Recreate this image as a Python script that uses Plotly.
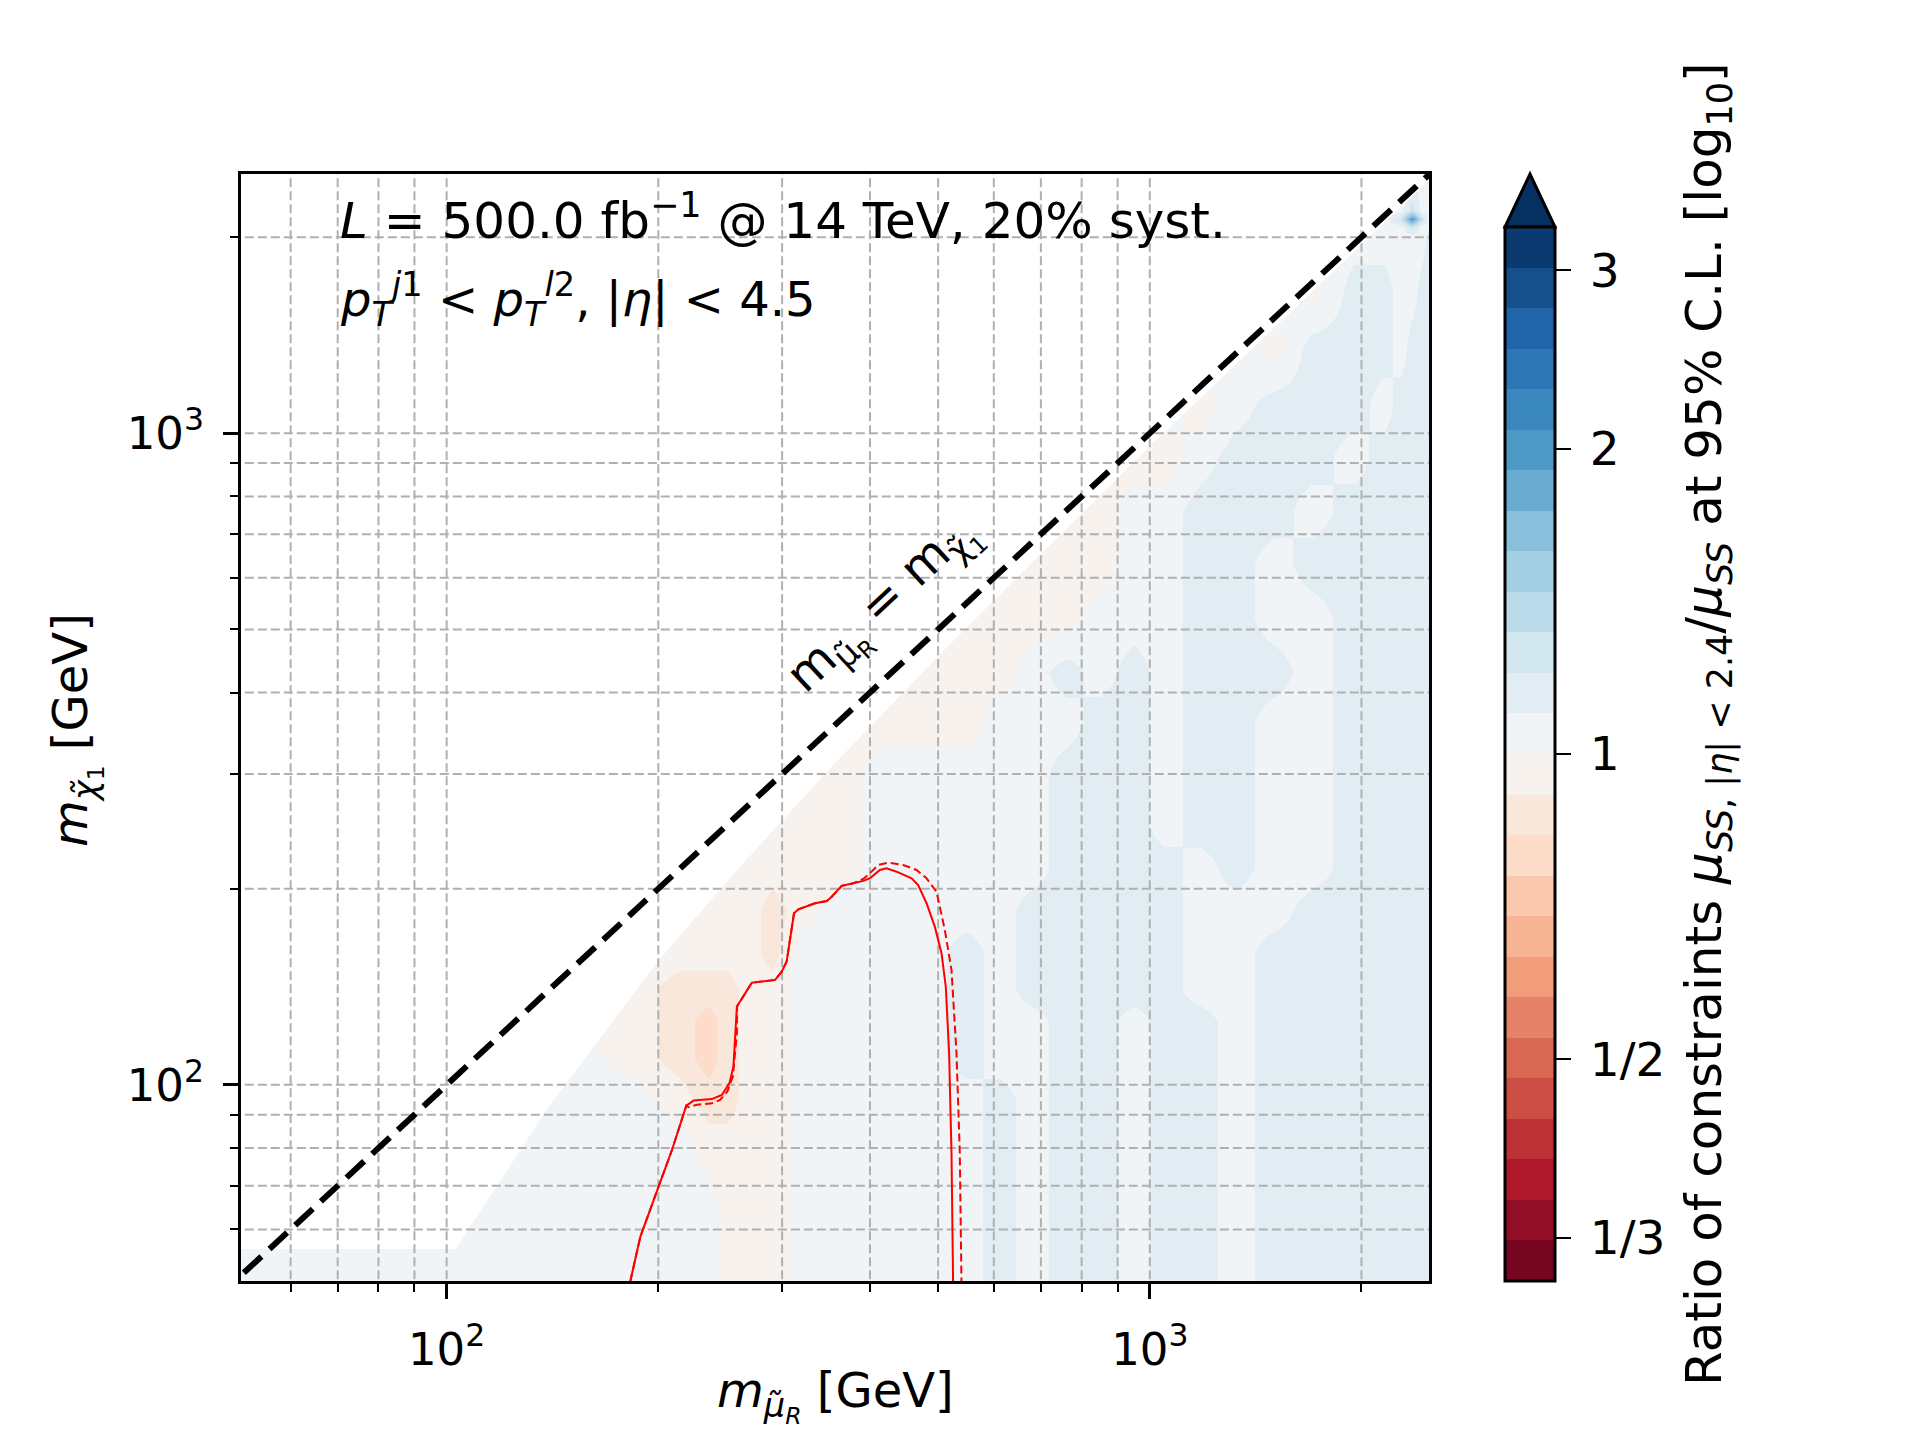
import math
import plotly.graph_objects as go

FONT = "DejaVu Sans"

# ---------------- data ----------------
# grid nodes of the ratio map (GeV)
mu_nodes = [51, 100, 150, 185, 215, 235, 250, 270, 290, 320, 360, 420, 480, 550, 610,
            680, 760, 850, 950, 1050, 1180, 1320, 1500, 1700, 1950, 2150, 2280, 2360, 2440, 2495]
chi_nodes = [50, 65, 80, 95, 110, 125, 140, 160, 185, 215, 250, 300, 360, 430, 520,
             630, 760, 920, 1100, 1350, 1650, 2000, 2070, 2130, 2200, 2500]

# log10(ratio) value of each colour class seen in the map
band_value = {"T": -0.10, "S": -0.06, "P": -0.02, "A": 0.02, "B": 0.06, "C": 0.10, "D": 0.30}

# one string per chi node (bottom -> top), one letter per mu node (left -> right)
band_rows = [
    "AAAAAA" "PPP" "AAAAA" "B" "A" "BB" "A" "BB" "A" "BBBBBBBB",          # 50
    "AAAAAA" "PPP" "AAAAA" "B" "A" "BB" "A" "BB" "A" "BBBBBBBB",          # 65
    "AAAAA" "PPPP" "AAAAA" "B" "A" "BB" "A" "BB" "A" "BBBBBBBB",          # 80
    "AAAA" "P" "SS" "PP" "AAAAA" "B" "A" "BB" "A" "BB" "A" "BBBBBBBB",    # 95
    "AAA" "P" "S" "T" "S" "PP" "AAAA" "B" "AA" "BB" "A" "BB" "A" "BBBBBBBB",  # 110
    "PPPP" "S" "T" "S" "PP" "AAAA" "B" "AA" "BB" "A" "BB" "A" "BBBBBBBB",  # 125
    "PPPP" "SSS" "PP" "AAAA" "B" "A" "BBBBB" "AA" "BBBBBBBB",             # 140
    "PPPPPPPP" "S" "AAAA" "B" "A" "BBBBB" "AA" "BBBBBBBB",                # 160
    "PPPPPPPP" "S" "P" "AAAAA" "BBBBB" "AAA" "BBBBBBB",                   # 185
    "PPPPPPPPPPP" "AAAAA" "BBBB" "A" "B" "AA" "BBBBBB",                   # 215
    "PPPPPPPPPPP" "AAAAA" "BBB" "A" "BB" "AA" "BBBBBB",                   # 250
    "PPPPPPPPPPP" "AAAAA" "BBB" "A" "BB" "AA" "BBBBBB",                   # 300
    "PPPPPPPPPPPPPP" "AAA" "BB" "A" "BB" "AA" "BBBBBB",                   # 360
    "PPPPPPPPPPPPPPP" "A" "B" "A" "B" "A" "BBB" "A" "BBBBBB",             # 430
    "PPPPPPPPPPPPPPPPP" "AAA" "BB" "AA" "BBBBBB",                         # 520
    "PPPPPPPPPPPPPPPPPP" "AA" "BB" "A" "BBBBBBB",                         # 630
    "PPPPPPPPPPPPPPPPPP" "AA" "BBB" "A" "BBBBBB",                         # 760
    "PPPPPPPPPPPPPPPPPPPP" "A" "BBB" "A" "BBBBB",                         # 920
    "AAAAAAAAAAAAAAAAAAAA" "P" "A" "BBB" "A" "BBBB",                      # 1100
    "AAAAAAAAAAAAAAAAAAAAAA" "P" "BBB" "A" "BBB",                         # 1350
    "AAAAAAAAAAAAAAAAAAAAAAA" "P" "BB" "AA" "BB",                         # 1650
    "AAAAAAAAAAAAAAAAAAAAAAAAAAAAA" "B",                                  # 2000
    "AAAAAAAAAAAAAAAAAAAAAAAAAAA" "C" "AA",                               # 2070
    "AAAAAAAAAAAAAAAAAAAAAAAAAA" "CDC" "A",                               # 2130
    "AAAAAAAAAAAAAAAAAAAAAAAAAAA" "C" "AA",                               # 2200
    "AAAAAAAAAAAAAAAAAAAAAAAAAAAAAA",                                     # 2500
]

# lower edge of the region without data (just below the diagonal)
edge_mu = [40, 103, 140, 200, 260, 356, 522, 1000, 3000]
edge_chi = [56, 56, 93, 155, 215, 311, 477, 955, 2955]

# exclusion contours (red)
solid_mu = [182.5, 188.6, 209.2, 219.2, 224.5, 238.4, 246.3, 252.5, 255.8, 258.7, 271.7, 293.2,
            299.6, 304.5, 311.9, 316.4, 334.2, 347.2, 352.9, 364.6, 378.7, 391.3, 399.9, 413.2,
            422.4, 436.4, 458.4, 468.4, 481.4, 494.6, 505.6, 512.7, 518.3, 522.4, 525.1]
solid_chi = [50.0, 58.5, 79.5, 92.9, 94.6, 95.1, 96.5, 100.6, 106.7, 131.9, 143.5, 144.9,
             149.2, 154.6, 183.4, 186.0, 190.0, 191.5, 194.4, 202.0, 203.9, 205.6, 207.5, 213.7,
             215.0, 212.4, 207.5, 202.6, 190.0, 174.9, 159.2, 141.5, 111.9, 78.6, 50.0]
dashed_mu = [182.5, 188.6, 209.2, 219.2, 220.8, 227.0, 238.4, 244.9, 250.8, 255.3, 258.7, 258.8,
             271.7, 293.2, 299.6, 304.5, 311.9, 316.4, 334.2, 347.2, 352.9, 364.6, 378.7, 391.3,
             399.9, 411.0, 424.6, 446.0, 465.9, 481.4, 497.3, 511.1, 522.4, 531.0, 536.8, 539.7]
dashed_chi = [50.0, 58.5, 79.5, 92.9, 92.4, 93.2, 93.7, 94.8, 97.7, 103.0, 120.0, 131.9,
              143.5, 144.9, 149.2, 154.6, 183.4, 186.0, 190.0, 191.5, 194.4, 202.0, 203.9, 207.0,
              211.2, 217.5, 219.3, 217.5, 213.7, 207.5, 197.9, 172.9, 150.1, 112.0, 78.6, 50.0]

# axis ticks
major_ticks = [100, 1000]
major_text = ["10<sup>2</sup>", "10<sup>3</sup>"]
minor_ticks = [60, 70, 80, 90, 200, 300, 400, 500, 600, 700, 800, 900, 2000]
grid_ticks = [60, 70, 80, 90, 100, 200, 300, 400, 500, 600, 700, 800, 900, 1000, 2000]
x_range = [51, 2495]
y_range = [50, 2500]

# colour bar
cb_levels_min, cb_levels_max, cb_n_bands = -0.52, 0.52, 26
cb_tick_ratio = [1 / 3, 1 / 2, 1, 2, 3]
cb_tick_text = ["1/3", "1/2", "1", "2", "3"]

# ---------------- build ----------------
for r in band_rows:
    if len(r) != len(mu_nodes):
        raise ValueError("row length %d" % len(r))
z = [[band_value[c] for c in row] for row in band_rows]

rdbu_anchor = [(103, 0, 31), (178, 24, 43), (214, 96, 77), (244, 165, 130), (253, 219, 199),
               (247, 247, 247), (209, 229, 240), (146, 197, 222), (67, 147, 195),
               (33, 102, 172), (5, 48, 97)]


def rdbu(t):
    t = min(max(t, 0.0), 1.0) * 10
    i = min(int(t), 9)
    f = t - i
    c0, c1 = rdbu_anchor[i], rdbu_anchor[i + 1]
    return "rgb(%d,%d,%d)" % tuple(round(a + (b - a) * f) for a, b in zip(c0, c1))


colorscale = []
for k in range(cb_n_bands):
    col = rdbu((k + 0.5) / cb_n_bands)
    colorscale.append([k / cb_n_bands, col])
    colorscale.append([(k + 1) / cb_n_bands, col])

# geometry (pixels)
W, H = 1920, 1440
ML, MR, MT, MB = 241, 491, 174, 159
PW, PH = W - ML - MR, H - MT - MB
CB_LEFT, CB_THICK, CB_LEN = 1505, 50, 1054

fig = go.Figure()

fig.add_trace(go.Heatmap(
    x=mu_nodes, y=chi_nodes, z=z, zmin=cb_levels_min, zmax=cb_levels_max,
    colorscale=colorscale, zsmooth="best", hoverinfo="skip",
    colorbar=dict(
        thicknessmode="pixels", thickness=CB_THICK,
        lenmode="pixels", len=CB_LEN,
        x=(CB_LEFT - ML) / PW, xanchor="left", xpad=0,
        y=0, yanchor="bottom", ypad=0,
        outlinecolor="black", outlinewidth=3,
        tickmode="array", tickvals=[math.log10(v) for v in cb_tick_ratio],
        ticktext=["\u2009" + t for t in cb_tick_text],
        ticks="outside", ticklen=15, tickwidth=2, tickcolor="black",
        tickfont=dict(family=FONT, size=47, color="black"),
    ),
))

# white area without data
fig.add_trace(go.Scatter(
    x=edge_mu + [3000, 40], y=edge_chi + [3000, 3000], mode="lines", fill="toself",
    fillcolor="white", line=dict(width=0, color="white"), hoverinfo="skip", showlegend=False))

# dashed grid (drawn above the map, as in the reference)
gx, gy = [], []
for v in grid_ticks:
    gx += [v, v, None]
    gy += [40, 3000, None]
fig.add_trace(go.Scatter(x=gx, y=gy, mode="lines", hoverinfo="skip", showlegend=False,
                         line=dict(color="#b0b0b0", width=2, dash="9px,4px")))
fig.add_trace(go.Scatter(x=gy, y=gx, mode="lines", hoverinfo="skip", showlegend=False,
                         line=dict(color="#b0b0b0", width=2, dash="9px,4px")))

# diagonal m_mu = m_chi
fig.add_trace(go.Scatter(x=[40, 3000], y=[40, 3000], mode="lines", hoverinfo="skip",
                         showlegend=False, line=dict(color="black", width=6, dash="24px,11px")))

fig.add_trace(go.Scatter(x=solid_mu, y=solid_chi, mode="lines", hoverinfo="skip",
                         showlegend=False, line=dict(color="red", width=2)))
fig.add_trace(go.Scatter(x=dashed_mu, y=dashed_chi, mode="lines", hoverinfo="skip",
                         showlegend=False, line=dict(color="red", width=2, dash="8px,4px")))

axis_common = dict(
    type="log", showgrid=False, zeroline=False, showline=True, linecolor="black", linewidth=3,
    mirror=True, ticks="outside", ticklen=15, tickwidth=3, tickcolor="black",
    tickmode="array", tickvals=major_ticks, ticktext=major_text,
    tickfont=dict(family=FONT, size=45, color="black"),
    minor=dict(tickmode="array", tickvals=minor_ticks, ticks="outside", ticklen=8, tickwidth=2,
               tickcolor="black", showgrid=False),
)

fig.update_layout(
    width=W, height=H, margin=dict(l=ML, r=MR, t=MT, b=MB, pad=0),
    paper_bgcolor="white", plot_bgcolor="white", showlegend=False,
    font=dict(family=FONT, color="black"),
    xaxis=dict(range=[math.log10(x_range[0]), math.log10(x_range[1])], ticklabelstandoff=12,
               **axis_common),
    yaxis=dict(range=[math.log10(y_range[0]), math.log10(y_range[1])], ticklabelstandoff=10,
               **axis_common),
)

# colour-bar extension arrow
xl = (CB_LEFT - ML) / PW
xr = (CB_LEFT + CB_THICK - ML) / PW
yt = CB_LEN / PH
fig.add_shape(type="path", xref="paper", yref="paper",
              path="M %.5f,%.5f L %.5f,%.5f L %.5f,%.5f Z" % (xl, yt, (xl + xr) / 2, 1.0, xr, yt),
              fillcolor=rdbu(1.0), line=dict(color="black", width=3), layer="above")

ann = []
ann.append(dict(text="<i>L</i> = 500.0 fb<sup>\u22121</sup> @ 14 TeV, 20% syst.",
                x=(338 - ML) / PW, y=(MT + PH - 218) / PH, xanchor="left", yanchor="middle",
                font=dict(size=50)))
ann.append(dict(text="<i>p</i><sub><i>T</i></sub><sup><i>j</i>1</sup> &lt; "
                     "<i>p</i><sub><i>T</i></sub><sup><i>l</i>2</sup>, |<i>\u03b7</i>| &lt; 4.5",
                x=(338 - ML) / PW, y=(MT + PH - 300) / PH, xanchor="left", yanchor="middle",
                font=dict(size=48)))
ann.append(dict(text="m<sub>\u03bc\u0303<sub>R</sub></sub> = m<sub>\u03c7\u0303<sub>1</sub></sub>",
                x=(884 - ML) / PW, y=(MT + PH - 606) / PH, xanchor="center", yanchor="middle",
                textangle=-43, font=dict(size=48)))
ann.append(dict(text="<i>m</i><sub><i>\u03bc\u0303</i><sub><i>R</i></sub></sub> [GeV]",
                x=0.5, y=(MT + PH - 1396) / PH, xanchor="center", yanchor="middle",
                font=dict(size=48)))
ann.append(dict(text="<i>m</i><sub><i>\u03c7\u0303</i><sub>1</sub></sub> [GeV]",
                x=(76 - ML) / PW, y=(MT + PH - 730) / PH, xanchor="center", yanchor="middle",
                textangle=-90, font=dict(size=48)))
ann.append(dict(text="Ratio of constraints <i>\u03bc</i><sub><i>SS</i>, |<i>\u03b7</i>| &lt; 2.4</sub>"
                     "/<i>\u03bc</i><sub><i>SS</i></sub> at 95% C.L. [log<sub>10</sub>]",
                x=(1708 - ML) / PW, y=(MT + PH - 724) / PH, xanchor="center", yanchor="middle",
                textangle=-90, font=dict(size=50)))
for a in ann:
    a.update(xref="paper", yref="paper", showarrow=False)
    a["font"].update(family=FONT, color="black")
fig.update_layout(annotations=ann)

fig.write_html("out.html", config={"displayModeBar": False})
